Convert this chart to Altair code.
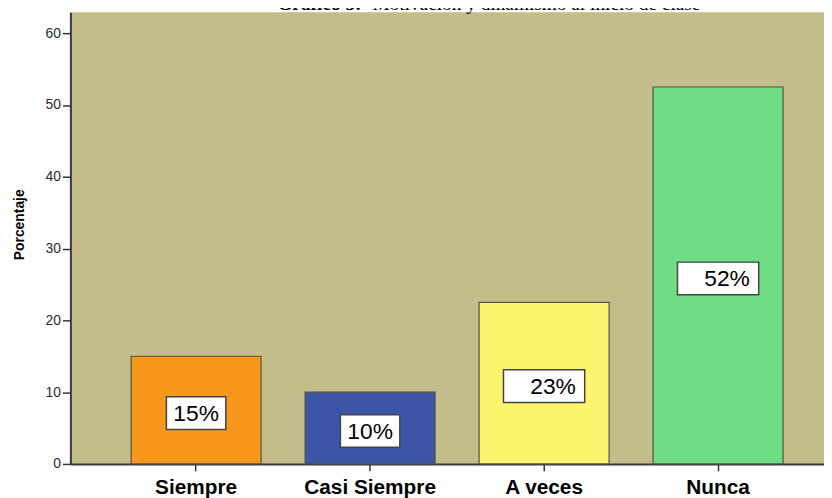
import altair as alt
import pandas as pd

categories = ["Siempre", "Casi Siempre", "A veces", "Nunca"]
values = [15, 10, 22.5, 52.5]
labels = ["15%", "10%", "23%", "52%"]
colors = ["#f7981d", "#3c55a6", "#fbf56e", "#6edd86"]
y_ticks = [0, 10, 20, 30, 40, 50, 60]
title_bold = "Gráfico 5:"
title_rest = "Motivación y dinamismo al inicio de clase"

df = pd.DataFrame({"cat": categories, "val": values, "lab": labels})

x_enc = alt.X(
    "cat:N",
    sort=categories,
    scale=alt.Scale(range=[0, 781], paddingInner=0.253, paddingOuter=0.349),
    axis=alt.Axis(
        title=None, labelAngle=0, labelFont="Liberation Sans", labelFontWeight="bold",
        labelFontSize=21, labelColor="#000000", labelBaseline="alphabetic",
        labelPadding=23, tickSize=7, tickColor="#333333", tickWidth=1.5,
        domainColor="#3a3a3a", domainWidth=2,
    ),
)
y_scale = alt.Scale(domain=[0, 62.9], nice=False, zero=True)

bars = alt.Chart(df).mark_bar(stroke="#55533f", strokeWidth=1.2).encode(
    x=x_enc,
    y=alt.Y(
        "val:Q", scale=y_scale,
        axis=alt.Axis(
            title="Porcentaje", values=y_ticks, grid=False, titleFont="Liberation Sans",
            titleFontSize=14, titleFontWeight="bold", titleColor="#000000", titlePadding=19,
            titleY=214,
            labelFont="Liberation Sans", labelFontSize=14, labelColor="#2b2b2b",
            labelPadding=2, tickSize=8, tickColor="#333333", tickWidth=1.5,
            domainColor="#3a3a3a", domainWidth=2,
        ),
    ),
    color=alt.Color("cat:N", sort=categories,
                    scale=alt.Scale(domain=categories, range=colors), legend=None),
)

base_mid = alt.Chart(df).transform_calculate(mid="datum.val / 2")

narrow = base_mid.transform_filter("datum.val < 20")
wide = base_mid.transform_filter("datum.val >= 20")

box_narrow = narrow.mark_point(
    shape="M-1,-0.55L1,-0.55L1,0.55L-1,0.55Z", size=3600, filled=True,
    fill="white", stroke="#444444", strokeWidth=1.5, opacity=1, yOffset=3,
).encode(x=alt.X("cat:N", sort=categories), y=alt.Y("mid:Q", scale=y_scale))

box_wide = wide.mark_point(
    shape="M-1,-0.402L1,-0.402L1,0.402L-1,0.402Z", size=6724, filled=True,
    fill="white", stroke="#444444", strokeWidth=1.5, opacity=1, yOffset=3,
).encode(x=alt.X("cat:N", sort=categories), y=alt.Y("mid:Q", scale=y_scale))

txt_narrow = narrow.mark_text(
    font="Liberation Sans", fontSize=23, color="#000000", baseline="middle", dy=4,
).encode(x=alt.X("cat:N", sort=categories), y=alt.Y("mid:Q", scale=y_scale), text="lab:N")

txt_wide = wide.mark_text(
    font="Liberation Sans", fontSize=23, color="#000000", baseline="middle", dy=4, dx=9,
).encode(x=alt.X("cat:N", sort=categories), y=alt.Y("mid:Q", scale=y_scale), text="lab:N")

title_df = pd.DataFrame({"b": [title_bold], "r": [title_rest]})
t1 = alt.Chart(title_df).mark_text(
    font="Liberation Serif", fontSize=19.5, fontWeight="bold", color="#000000",
    align="left", baseline="alphabetic",
).encode(text="b:N", x=alt.value(209), y=alt.value(-2))
t2 = alt.Chart(title_df).mark_text(
    font="Liberation Serif", fontSize=19.5, color="#000000",
    align="left", baseline="alphabetic",
).encode(text="r:N", x=alt.value(305), y=alt.value(-2))

chart = alt.layer(bars, box_narrow, box_wide, txt_narrow, txt_wide, t1, t2).properties(
    width=761, height=456,
    autosize=alt.AutoSizeParams(type="none"),
    padding={"left": 63, "top": 2, "right": 0, "bottom": 32},
).configure(
    background="white",
    view=alt.ViewConfig(fill="#c3bd8c", strokeWidth=0),
)

chart.save("out.html", embed_options={"renderer": "svg", "actions": False})
